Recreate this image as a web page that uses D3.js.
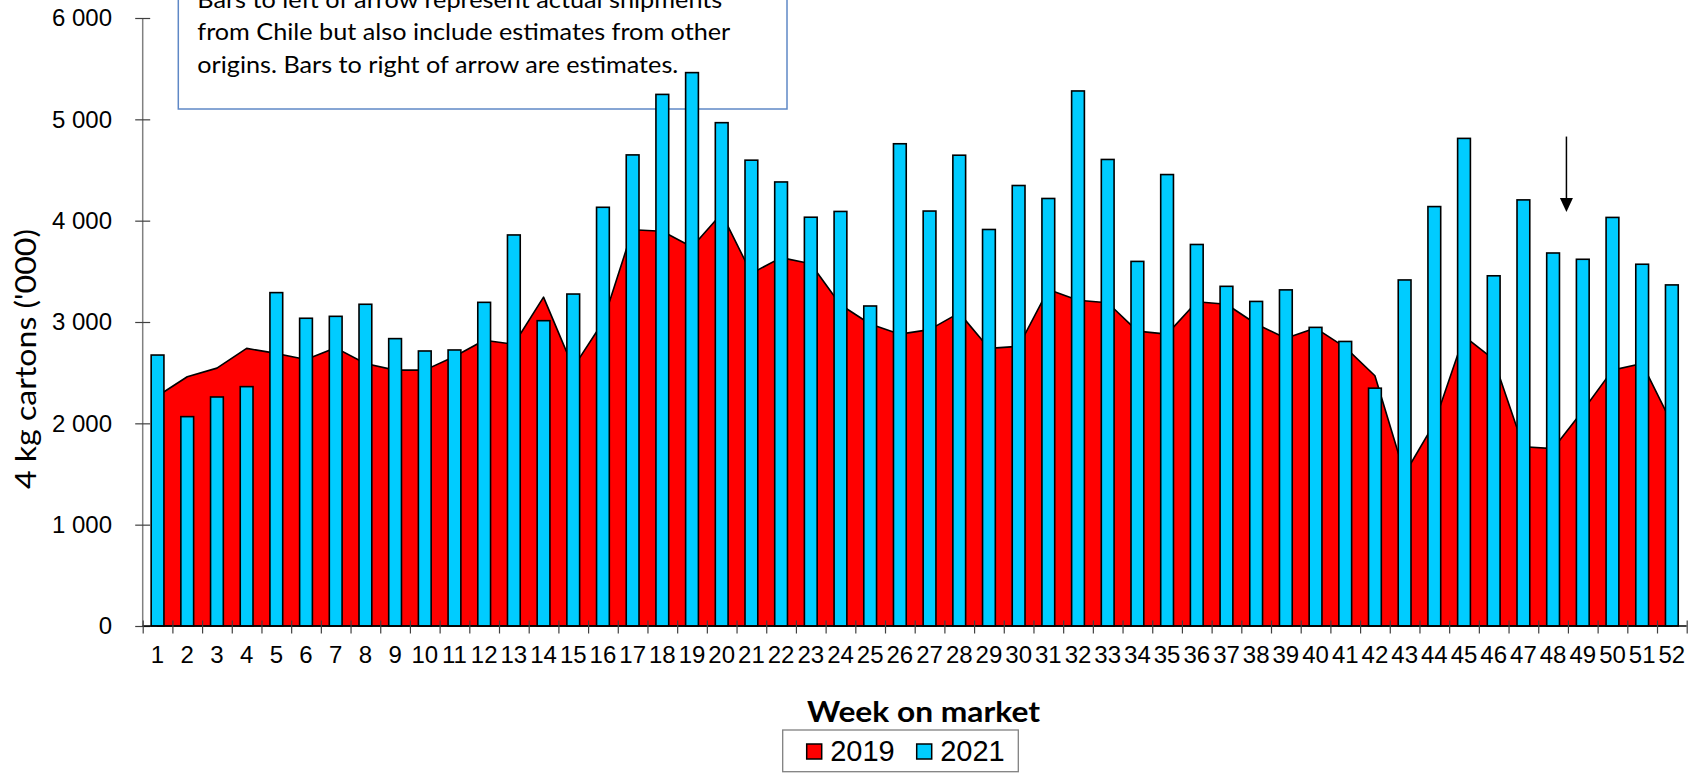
<!DOCTYPE html>
<html>
<head>
<meta charset="utf-8">
<script src="https://cdn.jsdelivr.net/npm/d3@7/dist/d3.min.js"></script>
<style>
  html, body { margin: 0; padding: 0; background: #ffffff; }
  svg { display: block; }
</style>
</head>
<body>
<svg id="chart" width="1696" height="779"></svg>
<script>
// ---------------- data ----------------
const weeks = ["1","2","3","4","5","6","7","8","9","10","11","12","13","14","15","16","17","18","19","20",
  "21","22","23","24","25","26","27","28","29","30","31","32","33","34","35","36","37","38","39","40",
  "41","42","43","44","45","46","47","48","49","50","51","52"];

const values2019 = [2270, 2460, 2545, 2740, 2690, 2630, 2745, 2590, 2525, 2525,
  2660, 2820, 2780, 3245, 2550, 3000, 3910, 3895, 3740, 4070,
  3480, 3635, 3575, 3170, 2980, 2880, 2925, 3090, 2740, 2760,
  3320, 3215, 3190, 2910, 2880, 3200, 3175, 2980, 2840, 2940,
  2750, 2470, 1500, 2000, 2860, 2630, 1770, 1750, 2125, 2525,
  2590, 2000];

const values2021 = [2674, 2066, 2260, 2362, 3290, 3037, 3056, 3175, 2836, 2714,
  2724, 3194, 3859, 3013, 3276, 4132, 4649, 5246, 5461, 4967,
  4597, 4382, 4034, 4091, 3158, 4759, 4095, 4646, 3913, 4347,
  4219, 5280, 4604, 3598, 4455, 3765, 3352, 3203, 3317, 2947,
  2808, 2347, 3415, 4139, 4812, 3456, 4205, 3681, 3619, 4032,
  3570, 3366];

const yTicks = [0, 1000, 2000, 3000, 4000, 5000, 6000];
const seriesNames = ["2019", "2021"];
const seriesColors = ["#FF0000", "#00CCFF"];
const yTitle = "4 kg cartons ('000)";
const xTitle = "Week on market";
const noteLines = [
  "Bars to left of arrow represent actual shipments",
  "from Chile but also include estimates from other",
  "origins. Bars to right of arrow are estimates."
];
// arrow annotation: at boundary after week 48, from value to value
const arrowBoundary = 48;
const arrowFrom = 4830;
const arrowTo = 4085;

// ---------------- layout ----------------
const svg = d3.select("#chart");
const X0 = 142.7, X1 = 1686.7, Y0 = 626, Y1 = 18;

const xBand = d3.scaleBand().domain(weeks).range([X0, X1]).paddingInner(0.57).paddingOuter(0.285);
const xEdge = d3.scaleLinear().domain([0, weeks.length]).range([X0, X1]);
const y = d3.scaleLinear().domain([0, 6000]).range([Y0, Y1]);
const cx = w => xBand(w) + xBand.bandwidth() / 2;

const spaceFmt = v => d3.format(",")(v).replace(/,/g, " ");

// ---------------- text box (behind) ----------------
const note = svg.append("g");
note.append("rect")
  .attr("x", 178.3).attr("y", -40).attr("width", 608.7).attr("height", 149)
  .attr("fill", "#ffffff").attr("stroke", "#5f88c6").attr("stroke-width", 1.5);
const noteBase = [7.5, 40.2, 72.7];
const noteLen = [525, 533, 481];
noteLines.forEach((t, i) => {
  note.append("text")
    .attr("x", 197.3).attr("y", noteBase[i])
    .attr("font-family", "Lato, 'Open Sans', sans-serif")
    .attr("font-size", 24)
    .attr("textLength", noteLen[i]).attr("lengthAdjust", "spacingAndGlyphs")
    .attr("fill", "#000")
    .text(t);
});

// ---------------- area 2019 ----------------
const area = d3.area()
  .x((d, i) => cx(weeks[i]))
  .y0(y(0))
  .y1(d => y(d));
svg.append("path")
  .datum(values2019)
  .attr("d", area)
  .attr("fill", seriesColors[0])
  .attr("stroke", "#000")
  .attr("stroke-width", 1.6)
  .attr("stroke-linejoin", "round");

// ---------------- bars 2021 ----------------
svg.append("g").selectAll("rect")
  .data(values2021)
  .join("rect")
  .attr("x", (d, i) => xBand(weeks[i]))
  .attr("y", d => y(d))
  .attr("width", xBand.bandwidth())
  .attr("height", d => y(0) - y(d))
  .attr("fill", seriesColors[1])
  .attr("stroke", "#000")
  .attr("stroke-width", 1.6);

// ---------------- axes ----------------
const yAxis = svg.append("g")
  .attr("transform", `translate(${X0},0)`)
  .call(d3.axisLeft(y).tickValues(yTicks).tickFormat(spaceFmt).tickSize(7.5).tickPadding(24));
yAxis.select(".domain").attr("stroke", "#808080").attr("stroke-width", 1.5)
  .attr("d", `M0,${Y0}V${Y1}`);
yAxis.selectAll(".tick line").attr("x1", -7.5).attr("x2", 7.5).attr("stroke", "#404040").attr("stroke-width", 1.2);
yAxis.selectAll(".tick text")
  .attr("font-family", "'Liberation Sans', Arial, sans-serif")
  .attr("font-size", 24).attr("fill", "#000")
  .attr("x", 112 - X0);

const xTicksAxis = svg.append("g")
  .attr("transform", `translate(0,${Y0})`)
  .call(d3.axisBottom(xEdge).tickValues(d3.range(0, weeks.length + 1)).tickFormat("").tickSize(7.5));
xTicksAxis.select(".domain").attr("stroke", "#000").attr("stroke-width", 1.5)
  .attr("d", `M${X0},0H${X1}`);
xTicksAxis.selectAll(".tick line").attr("y1", -5.5).attr("y2", 7.5).attr("stroke", "#404040").attr("stroke-width", 1.2);

const xLabels = svg.append("g")
  .attr("transform", `translate(0,${Y0})`)
  .call(d3.axisBottom(xBand).tickSize(0).tickPadding(0));
xLabels.select(".domain").remove();
xLabels.selectAll(".tick text")
  .attr("font-family", "'Liberation Sans', Arial, sans-serif")
  .attr("font-size", 24).attr("fill", "#000")
  .attr("dy", null).attr("y", 37);

// y title
svg.append("text")
  .attr("transform", `translate(36,359) rotate(-90)`)
  .attr("text-anchor", "middle")
  .attr("font-family", "Lato, 'Open Sans', sans-serif")
  .attr("font-size", 29)
  .attr("textLength", 260).attr("lengthAdjust", "spacingAndGlyphs")
  .attr("fill", "#000")
  .text(yTitle);

// x title
svg.append("text")
  .attr("x", 923.5).attr("y", 721.7)
  .attr("text-anchor", "middle")
  .attr("font-family", "Lato, 'Open Sans', sans-serif")
  .attr("font-weight", "bold")
  .attr("font-size", 28)
  .attr("textLength", 233).attr("lengthAdjust", "spacingAndGlyphs")
  .attr("fill", "#000")
  .text(xTitle);

// ---------------- arrow ----------------
const ax = xEdge(arrowBoundary) - 1.5;
svg.append("line")
  .attr("x1", ax).attr("x2", ax)
  .attr("y1", y(arrowFrom)).attr("y2", y(arrowTo) - 12)
  .attr("stroke", "#000").attr("stroke-width", 1.5);
svg.append("path")
  .attr("d", `M${ax - 6.5},${y(arrowTo) - 14}L${ax + 6.5},${y(arrowTo) - 14}L${ax},${y(arrowTo)}Z`)
  .attr("fill", "#000");

// ---------------- legend ----------------
const lg = svg.append("g");
lg.append("rect")
  .attr("x", 782.7).attr("y", 730).attr("width", 235.6).attr("height", 41.7)
  .attr("fill", "#fff").attr("stroke", "#808080").attr("stroke-width", 1.3);
const legX = [806.7, 916.7];
seriesNames.forEach((n, i) => {
  lg.append("rect")
    .attr("x", legX[i]).attr("y", 744).attr("width", 15).attr("height", 15)
    .attr("fill", seriesColors[i]).attr("stroke", "#000").attr("stroke-width", 1.5);
  lg.append("text")
    .attr("x", legX[i] + 23.5).attr("y", 760.5)
    .attr("font-family", "'Liberation Sans', Arial, sans-serif")
    .attr("font-size", 29).attr("fill", "#000")
    .text(n);
});
</script>
</body>
</html>
